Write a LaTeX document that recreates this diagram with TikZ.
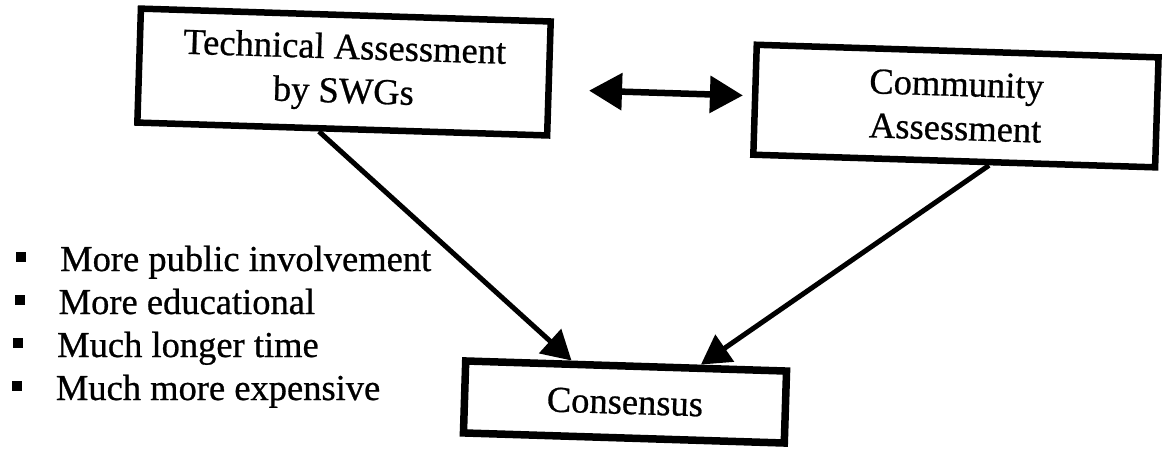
\documentclass[tikz,border=0pt]{standalone}
\usepackage{fontspec}
\setmainfont{Liberation Serif}[FakeBold=0.7]
\usetikzlibrary{arrows.meta}
\tikzset{
  box/.style={draw, line width=6.5pt, align=center, inner sep=0pt,
    font=\fontsize{36.5}{44}\selectfont},
  link/.style={line width=5pt, -{Triangle[length=29pt,width=32pt]}},
  twoway/.style={line width=6.5pt,
    {Triangle[length=33pt,width=36pt]}-{Triangle[length=33pt,width=36pt]}},
  sq/.style={fill, minimum size=10pt, inner sep=0pt},
  item/.style={anchor=base west, inner sep=0pt,
    font=\fontsize{36.5}{44}\selectfont}
}
\begin{document}
\begin{tikzpicture}[x=1pt,y=-1pt]
\useasboundingbox (0,0) rectangle (1167,452);
\begin{scope}[rotate around={-1.8:(583,226)}, transform shape]
  \node[box, minimum width=410pt, minimum height=114pt] (tech) at (339.3,79.6)
    {Technical Assessment\\by SWGs};
  \node[box, minimum width=402pt, minimum height=110pt] (comm) at (952,94.4)
    {Community\\Assessment};
  \node[box, line width=7.5pt, minimum width=321pt, minimum height=72pt] (cons) at (630.5,400.6)
    {Consensus};
  \coordinate (dl) at (584.8,90.5);
  \coordinate (dr) at (738.8,90.5);
  \draw[twoway] (dl) -- (dr);
  \draw[link] (tech.-111) -- (cons.144);
  \draw[link] (comm.-59) -- (cons.28);
\end{scope}
\foreach \t/\bx/\by/\tx [count=\i] in {More public involvement/21/257/60,
    More educational/19.5/300/58.5, Much longer time/18/343/57,
    Much more expensive/16.8/386/55.7} {
  \node[sq] (b\i) at (\bx,\by) {};
  \node[item] (t\i) at (\tx,\by+14) {\t};
}
\end{tikzpicture}
\end{document}
